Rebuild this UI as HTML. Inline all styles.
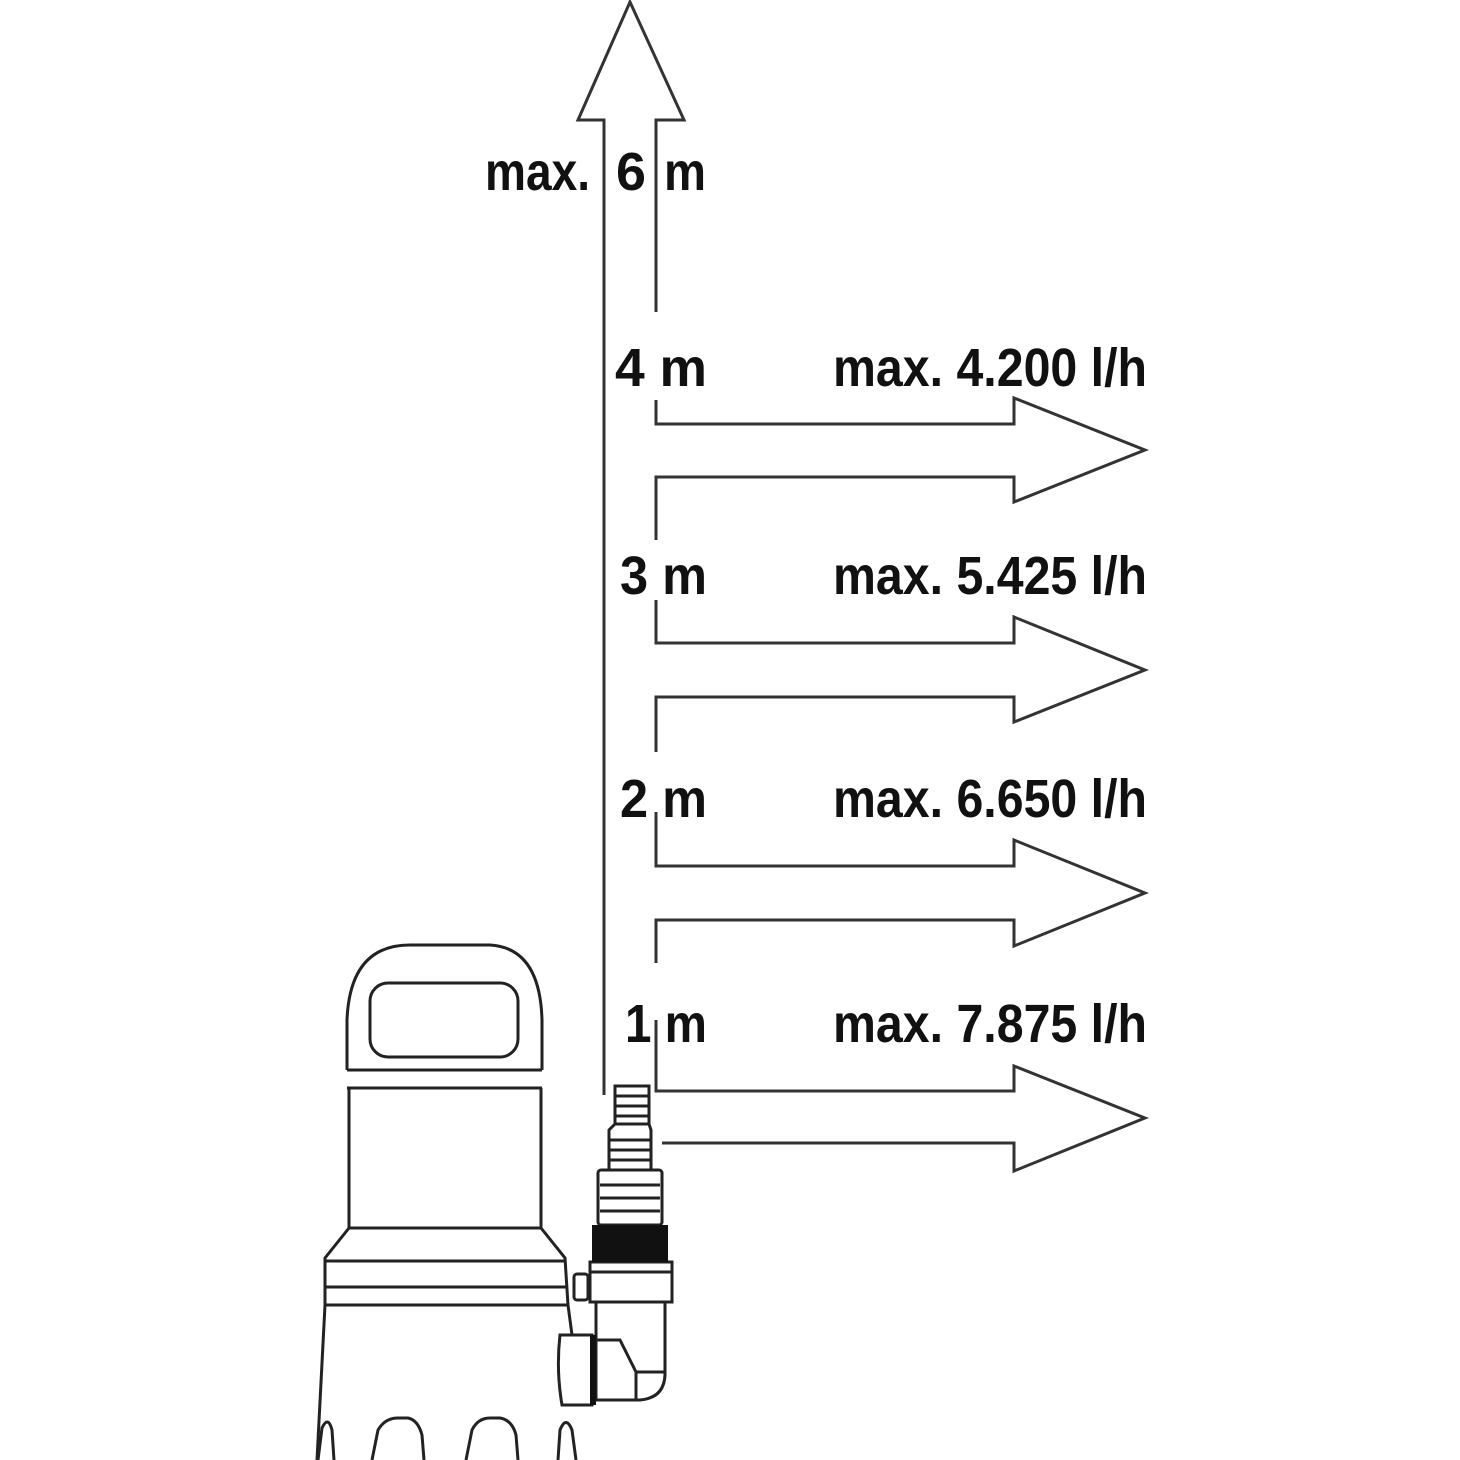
<!DOCTYPE html>
<html><head><meta charset="utf-8"><style>
html,body{margin:0;padding:0;background:#fff;width:1460px;height:1460px;overflow:hidden}
svg{display:block}
text{font-family:"Liberation Sans Narrow","Liberation Sans",sans-serif;font-weight:bold;font-size:54px;fill:#111}
</style></head><body>
<svg width="1460" height="1460" viewBox="0 0 1460 1460" xmlns="http://www.w3.org/2000/svg">
<g fill="none" stroke="#333" stroke-width="3" stroke-linejoin="miter">
<path d="M604 1095 L604 120 L578 120 L630 2 L684 120 L656 120 L656 312"/>
<path d="M656 400 L656 424 L1014 424 L1014 398 L1145 450 L1014 502 L1014 477 L656 477 L656 540"/>
<path d="M656 600 L656 643 L1014 643 L1014 617 L1145 670 L1014 722 L1014 697 L656 697 L656 752"/>
<path d="M656 812 L656 866 L1014 866 L1014 840 L1145 893 L1014 946 L1014 920 L656 920 L656 963"/>
<path d="M656 1020 L656 1091 L1014 1091 L1014 1066 L1145 1118 L1014 1171 L1014 1143 L662 1143"/>
</g>
<text x="485" y="190" textLength="105" lengthAdjust="spacingAndGlyphs">max.</text>
<text x="616" y="190" textLength="30" lengthAdjust="spacingAndGlyphs">6</text>
<text x="664" y="190" textLength="42" lengthAdjust="spacingAndGlyphs">m</text>
<text x="615" y="386" textLength="92" lengthAdjust="spacingAndGlyphs">4 m</text>
<text x="620" y="594" textLength="87" lengthAdjust="spacingAndGlyphs">3 m</text>
<text x="620" y="817" textLength="87" lengthAdjust="spacingAndGlyphs">2 m</text>
<text x="625" y="1042" textLength="82" lengthAdjust="spacingAndGlyphs">1 m</text>
<text x="833" y="386" textLength="314" lengthAdjust="spacingAndGlyphs">max. 4.200 l/h</text>
<text x="833" y="594" textLength="314" lengthAdjust="spacingAndGlyphs">max. 5.425 l/h</text>
<text x="833" y="817" textLength="314" lengthAdjust="spacingAndGlyphs">max. 6.650 l/h</text>
<text x="833" y="1042" textLength="314" lengthAdjust="spacingAndGlyphs">max. 7.875 l/h</text>
<g fill="none" stroke="#222" stroke-width="3">
<path d="M347 1070 L347 1020 Q350 945 410 945 L490 945 Q540 948 542 1020 L542 1070"/>
<rect x="370" y="983" width="148" height="74" rx="18"/>
<line x1="347" y1="1070" x2="542" y2="1070"/>
<line x1="347" y1="1088" x2="542" y2="1088"/>
<path d="M349 1088 L349 1228 L541 1228 L541 1088"/>
<path d="M349 1228 L325 1258 L325 1305 M541 1228 L565 1258 L568 1305"/>
<line x1="325" y1="1261" x2="566" y2="1261"/>
<line x1="325" y1="1287" x2="568" y2="1287"/>
<line x1="325" y1="1305" x2="568" y2="1305"/>
<path d="M325 1305 L317 1460 M568 1305 L572 1335"/>
<path d="M318 1460 L322 1428 Q328 1415 332 1430 L334 1460"/>
<path d="M372 1460 L378 1430 Q385 1418 398 1418 L408 1418 Q418 1420 422 1435 L424 1460"/>
<path d="M466 1460 L472 1430 Q478 1418 490 1418 L500 1418 Q512 1420 516 1435 L518 1460"/>
<path d="M558 1460 L560 1430 Q566 1415 572 1430 L576 1460"/>
<rect x="615" y="1086" width="34" height="38"/>
<line x1="615" y1="1096" x2="649" y2="1096"/><line x1="615" y1="1106" x2="649" y2="1106"/><line x1="615" y1="1116" x2="649" y2="1116"/>
<path d="M615 1124 L609 1130 L609 1170 L651 1170 L651 1130 L649 1124"/>
<line x1="609" y1="1140" x2="651" y2="1140"/><line x1="609" y1="1150" x2="651" y2="1150"/><line x1="609" y1="1160" x2="651" y2="1160"/>
<rect x="598" y="1170" width="64" height="55" rx="3"/>
<line x1="600" y1="1185" x2="660" y2="1185"/><line x1="600" y1="1198" x2="660" y2="1198"/><line x1="600" y1="1211" x2="660" y2="1211"/>
<rect x="590" y="1262" width="82" height="40"/>
<line x1="590" y1="1272" x2="672" y2="1272"/>
<rect x="574" y="1274" width="14" height="26" rx="3"/>
<path d="M596 1302 L596 1400 L640 1400 Q664 1398 665 1375 L665 1302"/>
<path d="M560 1335 Q556 1370 562 1405 L592 1405 L592 1335 Z"/>
<path d="M596 1340 L620 1340 L636 1372 L665 1372 M636 1372 L636 1400"/>
</g>
<rect x="592" y="1225" width="76" height="37" fill="#111"/>
<rect x="590" y="1335" width="6" height="70" fill="#111"/>
</svg>
</body></html>
